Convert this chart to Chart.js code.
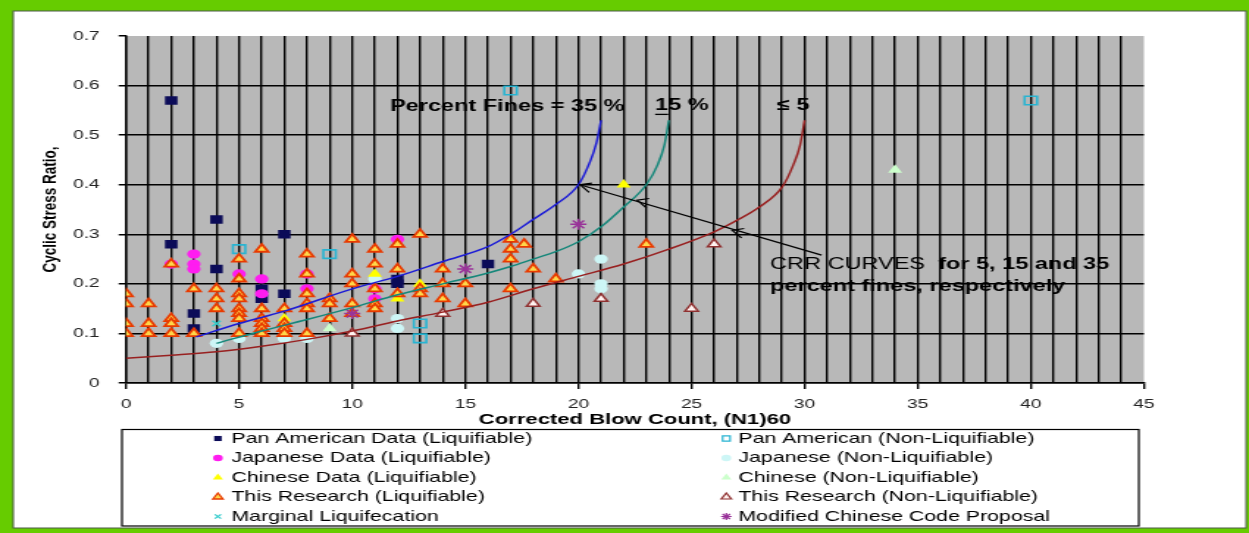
<!DOCTYPE html>
<html>
<head>
<meta charset="utf-8">
<script src="https://cdn.jsdelivr.net/npm/chart.js@4.4.1/dist/chart.umd.min.js"></script>
<style>
  html, body { margin: 0; padding: 0; background: #fff; overflow: hidden; }
  /* the figure is drawn at a narrower width and widened horizontally */
  #wrap { width: 850px; height: 533px; transform: scaleX(1.46941); transform-origin: 0 0; }
  canvas { display: block; }
</style>
</head>
<body>
<div id="wrap"><canvas id="c" width="850" height="533"></canvas></div>
<script>
// ---- series names (legend order: liquifiable left, non-liquifiable right) ----
const seriesNames = [
  'Pan American Data (Liquifiable)', 'Pan American (Non-Liquifiable)',
  'Japanese Data (Liquifiable)', 'Japanese (Non-Liquifiable)',
  'Chinese Data (Liquifiable)', 'Chinese (Non-Liquifiable)',
  'This Research (Liquifiable)', 'This Research (Non-Liquifiable)',
  'Marginal Liquifecation', 'Modified Chinese Code Proposal'
];
const xTitle = 'Corrected Blow Count, (N1)60';
const yTitle = 'Cyclic Stress Ratio,';

// ---- observations: (N1)60 and cyclic stress ratio ----
const panAmLiqX = [2, 2, 3, 3, 4, 4, 6, 6, 7, 7, 12, 12, 16];
const panAmLiqY = [0.57, 0.28, 0.14, 0.11, 0.33, 0.23, 0.19, 0.17, 0.30, 0.18, 0.21, 0.20, 0.24];

const panAmNonX = [5, 9, 13, 13, 17, 40];
const panAmNonY = [0.27, 0.26, 0.12, 0.09, 0.59, 0.57];

const japLiqX = [2, 3, 3, 3, 5, 6, 6, 8, 8, 11, 11, 12];
const japLiqY = [0.24, 0.26, 0.24, 0.23, 0.22, 0.21, 0.18, 0.22, 0.19, 0.19, 0.17, 0.29];

const japNonX = [4, 5, 7, 8, 11, 12, 12, 20, 21, 21, 21];
const japNonY = [0.08, 0.09, 0.09, 0.09, 0.21, 0.13, 0.11, 0.22, 0.25, 0.20, 0.19];

const chinLiqX = [7, 11, 12, 13, 22];
const chinLiqY = [0.13, 0.22, 0.17, 0.20, 0.40];

const chinNonX = [9, 34];
const chinNonY = [0.11, 0.43];

const thisLiqX = [
  0, 0, 0, 0,
  1, 1, 1,
  2, 2, 2, 2,
  3, 3,
  4, 4, 4,
  5, 5, 5, 5, 5, 5, 5, 5,
  6, 6, 6, 6, 6, 6,
  7, 7, 7, 7,
  8, 8, 8, 8, 8, 8,
  9, 9, 9,
  10, 10, 10, 10, 10,
  11, 11, 11, 11, 11,
  12, 12, 12,
  13, 13, 13,
  14, 14, 14,
  15, 15,
  17, 17, 17, 17,
  17.6, 18, 19, 23
];
const thisLiqY = [
  0.18, 0.16, 0.12, 0.10,
  0.16, 0.12, 0.10,
  0.24, 0.13, 0.12, 0.10,
  0.19, 0.10,
  0.19, 0.17, 0.15,
  0.25, 0.21, 0.18, 0.17, 0.15, 0.14, 0.13, 0.10,
  0.27, 0.15, 0.13, 0.12, 0.11, 0.10,
  0.15, 0.12, 0.11, 0.10,
  0.26, 0.22, 0.18, 0.16, 0.15, 0.10,
  0.17, 0.16, 0.13,
  0.29, 0.22, 0.20, 0.16, 0.14,
  0.27, 0.24, 0.19, 0.16, 0.15,
  0.28, 0.23, 0.18,
  0.30, 0.19, 0.18,
  0.23, 0.20, 0.17,
  0.20, 0.16,
  0.29, 0.27, 0.25, 0.19,
  0.28, 0.23, 0.21, 0.28
];

const thisNonX = [10, 14, 18, 21, 25, 26];
const thisNonY = [0.10, 0.14, 0.16, 0.17, 0.15, 0.28];

const marginalX = [4];
const marginalY = [0.12];

const modifiedX = [10, 15, 20];
const modifiedY = [0.14, 0.23, 0.32];

// ---- CRR curves for 35 %, 15 % and <=5 % fines ----
const crr35X = [3.1, 5, 7, 10, 12, 14, 16, 17, 18, 19, 20, 20.5, 20.8, 21];
const crr35Y = [0.093, 0.12, 0.145, 0.19, 0.215, 0.245, 0.275, 0.30, 0.33, 0.36, 0.40, 0.445, 0.485, 0.53];

const crr15X = [4, 6, 8, 10, 12, 14, 16, 17, 18, 19, 20, 21, 22, 23, 23.5, 23.8, 24];
const crr15Y = [0.08, 0.105, 0.128, 0.152, 0.178, 0.20, 0.222, 0.235, 0.25, 0.265, 0.285, 0.315, 0.355, 0.40, 0.44, 0.48, 0.53];

const crr5X = [0, 2, 4, 6, 8, 10, 12, 14, 16, 18, 20, 22, 24, 26, 27, 28, 29, 29.5, 29.8, 30];
const crr5Y = [0.05, 0.056, 0.063, 0.074, 0.088, 0.105, 0.125, 0.143, 0.163, 0.19, 0.215, 0.24, 0.27, 0.305, 0.328, 0.355, 0.395, 0.44, 0.48, 0.53];

// ---- annotation anchors (data units) ----
const arrowStart = [30.75, 0.258];
const arrowTips = [[20.07, 0.40], [22.6, 0.369], [26.8, 0.308]];

const FONT = '"Liberation Sans", Arial, Helvetica, sans-serif';
const STRETCH = 1.46941;
Chart.defaults.font.family = FONT;

function pts(xs, ys) { return xs.map((x, i) => ({ x: x, y: ys[i] })); }

// marker series styling, in legend order
const markerDefs = [
  { x: panAmLiqX, y: panAmLiqY, style: 'rect', r: 6, bg: '#0b0b58', bd: '#0b0b58', bw: 0, lr: 3.6, lbw: 0, z: 20 },
  { x: panAmNonX, y: panAmNonY, style: 'rect', r: 6, bg: 'rgba(0,0,0,0)', bd: '#28b4d2', bw: 1.6, lr: 3.6, lbw: 1.2, z: 19 },
  { x: japLiqX, y: japLiqY, style: 'circle', r: 4.6, bg: '#ff1cf0', bd: '#ff1cf0', bw: 0, lr: 3.3, lbw: 0, z: 18 },
  { x: japNonX, y: japNonY, style: 'circle', r: 4.6, bg: '#cdf6f6', bd: '#cdf6f6', bw: 0, lr: 3.3, lbw: 0, z: 17 },
  { x: chinLiqX, y: chinLiqY, style: 'triangle', r: 5.6, bg: '#ffff00', bd: '#ffff00', bw: 0, lr: 4, lbw: 0, z: 16 },
  { x: chinNonX, y: chinNonY, style: 'triangle', r: 5.6, bg: '#ccffcc', bd: '#ccffcc', bw: 0, lr: 4, lbw: 0, z: 15 },
  { x: thisLiqX, y: thisLiqY, style: 'triangle', r: 5.2, bg: '#ffd84a', bd: '#e83a00', bw: 1.8, lr: 4, lbw: 1.3, z: 14 },
  { x: thisNonX, y: thisNonY, style: 'triangle', r: 5.2, bg: '#fff2f0', bd: '#8f3030', bw: 1.5, lr: 4, lbw: 1.2, z: 13 },
  { x: marginalX, y: marginalY, style: 'crossRot', r: 4, bg: '#33cccc', bd: '#33cccc', bw: 1.5, lr: 3, lbw: 1.2, z: 12 },
  { x: modifiedX, y: modifiedY, style: 'star', r: 5.5, bg: '#993399', bd: '#993399', bw: 1.5, lr: 3.6, lbw: 1.2, z: 11 }
];

const markerSets = markerDefs.map((d, i) => ({
  label: seriesNames[i],
  data: pts(d.x, d.y),
  pointStyle: d.style,
  pointRadius: d.r,
  pointBackgroundColor: d.bg,
  pointBorderColor: d.bd,
  pointBorderWidth: d.bw,
  showLine: false,
  order: d.z
}));

function curve(xs, ys, color) {
  return {
    label: '',
    data: pts(xs, ys),
    showLine: true,
    borderColor: color,
    borderWidth: 1.5,
    pointRadius: 0,
    fill: false,
    cubicInterpolationMode: 'monotone',
    order: 1
  };
}
const curveSets = [
  curve(crr35X, crr35Y, '#1c1cd6'),
  curve(crr15X, crr15Y, '#15877a'),
  curve(crr5X, crr5Y, '#982020')
];

// frame, white sheet and grey plot area
const framePlugin = {
  id: 'frame',
  beforeDraw(chart) {
    const { ctx, width, height, chartArea: a } = chart;
    ctx.save();
    ctx.fillStyle = '#66cc00';
    ctx.fillRect(0, 0, width, height);
    ctx.fillStyle = '#ffffff';
    ctx.fillRect(9, 11, width - 11, height - 16);
    ctx.strokeStyle = '#4c5a48';
    ctx.lineWidth = 1;
    ctx.strokeRect(9, 11, width - 11, height - 16);
    ctx.fillStyle = '#b8b8b8';
    ctx.fillRect(a.left, a.top, a.right - a.left, a.bottom - a.top);
    ctx.restore();
  }
};

// curve labels, explanatory note and arrows
const notePlugin = {
  id: 'notes',
  afterDatasetsDraw(chart) {
    const { ctx, scales: { x, y } } = chart;
    const px = v => x.getPixelForValue(v);
    const py = v => y.getPixelForValue(v);
    ctx.save();
    ctx.fillStyle = '#000';
    ctx.textBaseline = 'middle';
    ctx.textAlign = 'left';

    ctx.font = 'bold 16px ' + FONT;
    ctx.fillText('Percent Fines = 35 %', px(11.67), py(0.557));
    const x15 = px(23.39), y15 = py(0.559);
    ctx.fillText('15 %', x15, y15);
    const w1 = ctx.measureText('1').width;
    ctx.strokeStyle = '#000';
    ctx.lineWidth = 1.3;
    ctx.beginPath();
    ctx.moveTo(x15, y15 + 8.5);
    ctx.lineTo(x15 + w1, y15 + 8.5);
    ctx.stroke();
    ctx.fillText('\u2264 5', px(28.78), py(0.559));

    // note text
    const nx = px(28.47);
    ctx.font = '16px ' + FONT;
    const part1 = 'CRR CURVES  ';
    ctx.fillText(part1, nx, py(0.238));
    const w = ctx.measureText(part1).width;
    ctx.font = 'bold 16px ' + FONT;
    ctx.fillText('for 5, 15 and 35', nx + w, py(0.238));
    ctx.fillText('percent fines, respectively', nx, py(0.194));

    // arrow shaft with three heads
    const sx = px(arrowStart[0]), sy = py(arrowStart[1]);
    const far = arrowTips[0];
    ctx.lineWidth = 1.2;
    ctx.beginPath();
    ctx.moveTo(sx, sy);
    ctx.lineTo(px(far[0]), py(far[1]));
    ctx.stroke();
    arrowTips.forEach(t => {
      const tx = px(t[0]), ty = py(t[1]);
      // geometry in displayed space so heads keep their shape
      const dx = (sx - tx) * STRETCH, dy = sy - ty;
      const len = Math.hypot(dx, dy);
      const ux = dx / len, uy = dy / len;
      const L = 12, ang = 0.42;
      const c = Math.cos(ang), s = Math.sin(ang);
      const ax = ux * c - uy * s, ay = ux * s + uy * c;
      const bx = ux * c + uy * s, by = -ux * s + uy * c;
      ctx.beginPath();
      ctx.moveTo(tx + ax * L / STRETCH, ty + ay * L);
      ctx.lineTo(tx, ty);
      ctx.lineTo(tx + bx * L / STRETCH, ty + by * L);
      ctx.stroke();
    });
    ctx.restore();
  }
};

// boxed two-column legend below the axis
const legendPlugin = {
  id: 'boxLegend',
  afterDraw(chart) {
    const ctx = chart.ctx;
    const box = { l: 83, t: 429.5, r: 775, b: 526 };
    const rowY = [438.5, 458, 477.5, 497, 516.5];
    const colMarker = [148.3, 494.3];
    const colText = [157.5, 502.5];
    ctx.save();
    ctx.fillStyle = '#fff';
    ctx.fillRect(box.l, box.t, box.r - box.l, box.b - box.t);
    ctx.strokeStyle = '#000';
    ctx.lineWidth = 1.2;
    ctx.strokeRect(box.l, box.t, box.r - box.l, box.b - box.t);
    ctx.textBaseline = 'middle';
    ctx.textAlign = 'left';
    markerDefs.forEach((d, i) => {
      const col = i % 2, row = Math.floor(i / 2);
      const yy = rowY[row];
      ctx.fillStyle = d.bg;
      ctx.strokeStyle = d.bd;
      ctx.lineWidth = d.lbw;
      Chart.helpers.drawPoint(ctx, { pointStyle: d.style, radius: d.lr, rotation: 0, borderWidth: d.lbw }, colMarker[col], yy);
      ctx.fillStyle = '#000';
      ctx.font = '14.5px ' + FONT;
      ctx.fillText(seriesNames[i], colText[col], yy);
    });
    ctx.restore();
  }
};

new Chart(document.getElementById('c'), {
  type: 'scatter',
  data: { datasets: curveSets.concat(markerSets) },
  options: {
    responsive: false,
    animation: false,
    devicePixelRatio: 1,
    events: [],
    layout: { padding: { left: 0, top: 36, right: 71.5, bottom: 102 } },
    plugins: { legend: { display: false }, tooltip: { enabled: false } },
    scales: {
      x: {
        type: 'linear', min: 0, max: 45,
        ticks: {
          stepSize: 1, autoSkip: false, maxRotation: 0, padding: 8,
          color: '#222', font: { size: 13 },
          callback: v => (v % 5 === 0 ? String(v) : '')
        },
        grid: {
          color: c => (c.tick && c.tick.value === 45 ? 'rgba(0,0,0,0)' : '#000'),
          lineWidth: 1.4, tickLength: 6, tickWidth: 1.4,
          tickColor: c => (c.tick && c.tick.value % 5 === 0 ? '#000' : 'rgba(0,0,0,0)')
        },
        border: { color: '#000', width: 1.5 },
        title: { display: true, text: xTitle, color: '#000', font: { size: 15, weight: 'bold' }, padding: { top: 0, bottom: 2 } },
        afterFit: s => { s.height = 48; }
      },
      y: {
        type: 'linear', min: 0, max: 0.7,
        ticks: {
          stepSize: 0.1, padding: 13, color: '#222', font: { size: 13 },
          callback: v => (Math.abs(v) < 1e-9 ? '0' : v.toFixed(1))
        },
        grid: {
          color: c => (c.tick && Math.abs(c.tick.value - 0.7) < 1e-6 ? 'rgba(0,0,0,0)' : '#000'),
          lineWidth: 1.5, tickLength: 5, tickColor: '#000'
        },
        border: { color: '#000', width: 1.4 },
        title: { display: true, text: yTitle, color: '#000', font: { size: 13.5, weight: 'bold' }, padding: { top: 26, bottom: 0 } },
        afterFit: s => { s.width = 85.75; }
      }
    }
  },
  plugins: [framePlugin, notePlugin, legendPlugin]
});
</script>
</body>
</html>
